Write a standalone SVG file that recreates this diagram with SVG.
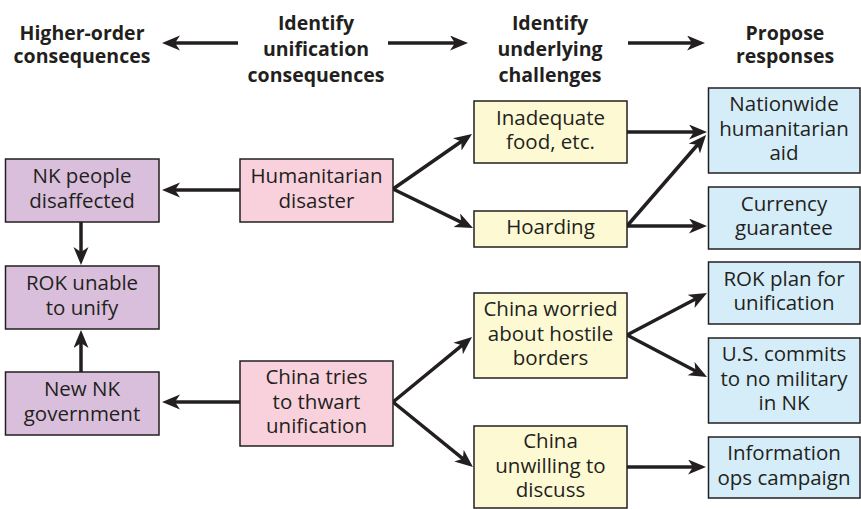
<svg xmlns="http://www.w3.org/2000/svg" width="861" height="509" viewBox="0 0 861 509">
<style>
.hd{font-family:"Open Sans","Liberation Sans",sans-serif;font-weight:bold;font-size:19.5px;fill:#231f20;text-anchor:middle}
.tx{font-family:"Open Sans","Liberation Sans",sans-serif;font-size:20.5px;fill:#231f20;text-anchor:middle}
.box{stroke:#231f20;stroke-width:1.5}
.p{fill:#d9bfdc}.k{fill:#f9d1dc}.y{fill:#fdf9d3}.b{fill:#d5edf9}
#connectors line{stroke:#231f20;stroke-width:3.5;marker-end:url(#ah)}
</style>
<defs>
<marker id="ah" markerUnits="userSpaceOnUse" markerWidth="19" markerHeight="16" refX="12" refY="7.5" orient="auto">
<path d="M0,0 L18,7.5 L0,15 L5,7.5 z" fill="#231f20"/>
</marker>
</defs>
<rect width="861" height="509" fill="#ffffff"/>
<g id="headers">
<text class="hd" x="82" y="40">Higher-order</text>
<text class="hd" x="82" y="63">consequences</text>
<text class="hd" x="316" y="30">Identify</text>
<text class="hd" x="316" y="56">unification</text>
<text class="hd" x="316" y="82">consequences</text>
<text class="hd" x="550" y="30">Identify</text>
<text class="hd" x="550" y="56">underlying</text>
<text class="hd" x="550" y="82">challenges</text>
<text class="hd" x="785" y="40">Propose</text>
<text class="hd" x="785" y="63">responses</text>
</g>
<g id="connectors">
<line x1="238" y1="43" x2="168" y2="43"/>
<line x1="388" y1="43" x2="462" y2="43"/>
<line x1="628" y1="43" x2="699" y2="43"/>
<line x1="240" y1="190" x2="168" y2="190"/>
<line x1="81" y1="222" x2="81" y2="259"/>
<line x1="81" y1="372" x2="81" y2="336"/>
<line x1="240" y1="402" x2="168" y2="402"/>
<line x1="393" y1="189" x2="467.1" y2="137.5"/>
<line x1="393" y1="189" x2="467.6" y2="225.4"/>
<line x1="627" y1="132" x2="701" y2="132"/>
<line x1="627" y1="226" x2="702.1" y2="139.5"/>
<line x1="627" y1="226" x2="701" y2="226"/>
<line x1="393" y1="402" x2="467.4" y2="340.8"/>
<line x1="393" y1="402" x2="468.3" y2="463.2"/>
<line x1="627" y1="335" x2="701.7" y2="295.8"/>
<line x1="627" y1="335" x2="701.7" y2="374.2"/>
<line x1="627" y1="467" x2="700" y2="467"/>
</g>
<g id="nk-people">
<rect class="box p" x="5.5" y="159" width="153.5" height="63"/>
<text class="tx" x="82" y="183.3">NK people</text>
<text class="tx" x="82" y="207.8">disaffected</text>
</g>
<g id="rok-unable">
<rect class="box p" x="5.5" y="266" width="153.5" height="63"/>
<text class="tx" x="82" y="290.3">ROK unable</text>
<text class="tx" x="82" y="314.8">to unify</text>
</g>
<g id="new-nk">
<rect class="box p" x="5.5" y="372" width="153.5" height="63"/>
<text class="tx" x="82" y="396.3">New NK</text>
<text class="tx" x="82" y="420.8">government</text>
</g>
<g id="humanitarian">
<rect class="box k" x="240" y="159" width="153" height="63"/>
<text class="tx" x="316.5" y="183.3">Humanitarian</text>
<text class="tx" x="316.5" y="207.8">disaster</text>
</g>
<g id="china-tries">
<rect class="box k" x="240" y="361" width="153" height="85"/>
<text class="tx" x="316.5" y="384">China tries</text>
<text class="tx" x="316.5" y="408.5">to thwart</text>
<text class="tx" x="316.5" y="433">unification</text>
</g>
<g id="inadequate">
<rect class="box y" x="474" y="101" width="153" height="62"/>
<text class="tx" x="550.5" y="124.8">Inadequate</text>
<text class="tx" x="550.5" y="149.3">food, etc.</text>
</g>
<g id="hoarding">
<rect class="box y" x="474" y="211" width="153" height="36"/>
<text class="tx" x="550.5" y="233.5">Hoarding</text>
</g>
<g id="china-worried">
<rect class="box y" x="474" y="293" width="153" height="85"/>
<text class="tx" x="550.5" y="316">China worried</text>
<text class="tx" x="550.5" y="340.5">about hostile</text>
<text class="tx" x="550.5" y="365">borders</text>
</g>
<g id="china-unwilling">
<rect class="box y" x="474" y="426" width="153" height="82"/>
<text class="tx" x="550.5" y="448">China</text>
<text class="tx" x="550.5" y="472.5">unwilling to</text>
<text class="tx" x="550.5" y="497">discuss</text>
</g>
<g id="nationwide-aid">
<rect class="box b" x="708.5" y="88" width="151.5" height="85"/>
<text class="tx" x="784" y="111">Nationwide</text>
<text class="tx" x="784" y="135.5">humanitarian</text>
<text class="tx" x="784" y="160">aid</text>
</g>
<g id="currency">
<rect class="box b" x="708.5" y="187" width="151.5" height="62"/>
<text class="tx" x="784" y="210.8">Currency</text>
<text class="tx" x="784" y="235.3">guarantee</text>
</g>
<g id="rok-plan">
<rect class="box b" x="708.5" y="262" width="151.5" height="62"/>
<text class="tx" x="784" y="285.8">ROK plan for</text>
<text class="tx" x="784" y="310.3">unification</text>
</g>
<g id="us-commits">
<rect class="box b" x="708.5" y="338" width="151.5" height="85"/>
<text class="tx" x="784" y="361">U.S. commits</text>
<text class="tx" x="784" y="385.5">to no military</text>
<text class="tx" x="784" y="410">in NK</text>
</g>
<g id="info-ops">
<rect class="box b" x="708.5" y="437" width="151.5" height="61"/>
<text class="tx" x="784" y="460.3">Information</text>
<text class="tx" x="784" y="484.8">ops campaign</text>
</g>
</svg>
